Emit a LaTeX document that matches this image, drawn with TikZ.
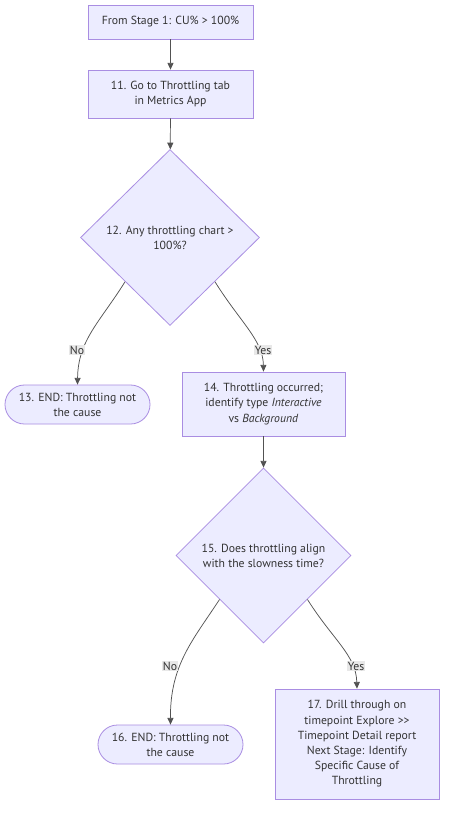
\documentclass[tikz,border=0pt]{standalone}
\usepackage{fontspec}
\setmainfont{PT Sans}
\usetikzlibrary{shapes.geometric,arrows.meta}
\definecolor{nodefill}{HTML}{ECECFF}
\definecolor{nodeline}{HTML}{9370DB}
\definecolor{edgecol}{HTML}{333333}
\definecolor{txtcol}{HTML}{333333}
\definecolor{lblfill}{HTML}{E8E8E8}
\tikzset{
  base/.style={draw=nodeline!80!white, fill=nodefill, line width=0.6pt, text=txtcol, align=center, font=\fontsize{8.8}{11.4}\selectfont, inner sep=0pt},
  procbox/.style={base, rectangle},
  endbox/.style={base, rectangle, rounded corners=14.6pt},
  decision/.style={base, diamond, aspect=1},
  edge/.style={draw=edgecol!85!white, line width=0.55pt, -{Triangle[length=5pt,width=4.5pt]}},
  lbl/.style={fill=lblfill, text=txtcol, font=\fontsize{8.8}{10}\selectfont, inner sep=0.8pt}
}
\begin{document}
\begin{tikzpicture}[x=0.75pt,y=-0.75pt]
\fill[white] (0,0) rectangle (451,813);
\useasboundingbox (0,0) rectangle (451,813);

\node[procbox, minimum width=123.75pt, minimum height=25.5pt] (s1) at (170.5,22) {From Stage 1: CU\% > 100\%};
\node[procbox, minimum width=123.75pt, minimum height=36pt] (n11) at (170.5,94) {11. Go to Throttling tab\\in Metrics App};
\node[decision, minimum width=134.25pt, minimum height=132pt] (n12) at (170,237.5) {12. Any throttling chart >\\100\%?};
\node[endbox, minimum width=108.75pt, minimum height=29.25pt] (n13) at (77.5,404.5) {13. END: Throttling not\\the cause};
\node[procbox, minimum width=122.25pt, minimum height=48pt] (n14) at (263.5,404) {14. Throttling occurred;\\identify type \textit{Interactive}\\vs \textit{Background}};
\node[decision, minimum width=131.25pt, minimum height=131.25pt] (n15) at (263.5,555.5) {15. Does throttling align\\with the slowness time?};
\node[endbox, minimum width=108.75pt, minimum height=29.25pt] (n16) at (170.5,744.5) {16. END: Throttling not\\the cause};
\node[procbox, minimum width=123pt, minimum height=82.5pt] (n17) at (357,744) {17. Drill through on\\timepoint Explore >{}>\\Timepoint Detail report\\Next Stage: Identify\\Specific Cause of\\Throttling};

\draw[edge] (s1) -- (n11);
\draw[edge] (n11) -- (n12);
\draw[edge] (n12.south west) .. controls (100,322) and (78,340) .. (n13.north);
\draw[edge] (n12.south east) .. controls (240,322) and (263,340) .. (n14.north);
\draw[edge] (n14) -- (n15);
\draw[edge] (n15.south west) .. controls (193,640) and (170,665) .. (n16.north);
\draw[edge] (n15.south east) .. controls (333,640) and (356,655) .. (n17.north);

\node[lbl] (l1) at (77,350) {No};
\node[lbl] (l2) at (263,350) {Yes};
\node[lbl] (l3) at (170,666) {No};
\node[lbl] (l4) at (356,666) {Yes};
\end{tikzpicture}
\end{document}
